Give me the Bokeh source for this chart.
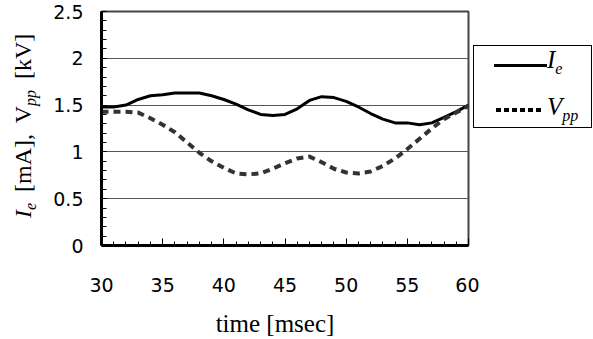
from bokeh.plotting import figure
from bokeh.models import Div, Range1d, SingleIntervalTicker
from bokeh.layouts import row, column
from bokeh.embed import file_html
from bokeh.resources import INLINE

# ---- data ----
time_ms = [30, 31, 32, 33, 34, 35, 36, 37, 38, 39, 40, 41, 42, 43, 44, 45,
           46, 47, 48, 49, 50, 51, 52, 53, 54, 55, 56, 57, 58, 59, 60]
ie_mA = [1.48, 1.48, 1.50, 1.56, 1.60, 1.61, 1.63, 1.63, 1.63, 1.60, 1.56,
         1.51, 1.45, 1.40, 1.39, 1.40, 1.46, 1.55, 1.59, 1.58, 1.54, 1.48,
         1.41, 1.35, 1.31, 1.31, 1.29, 1.31, 1.37, 1.43, 1.50]
vpp_kV = [1.43, 1.43, 1.43, 1.42, 1.36, 1.29, 1.21, 1.10, 0.99, 0.90, 0.83,
          0.77, 0.76, 0.77, 0.82, 0.88, 0.93, 0.95, 0.89, 0.82, 0.78, 0.77,
          0.79, 0.85, 0.93, 1.03, 1.14, 1.25, 1.35, 1.42, 1.49]
y_tick_values = [0, 0.5, 1, 1.5, 2, 2.5]
y_tick_labels = ["0", "0.5", "1", "1.5", "2", "2.5"]
x_label = "time [msec]"
y_label_html = ("<i>I</i><span class='sub'>e</span> [mA], "
                "V<span class='sub'>pp</span> [kV]")
legend_html = [("I", "e"), ("V", "pp")]

SERIF = "'Liberation Serif', 'Times New Roman', serif"

# ---- main plot ----
p = figure(width=434, height=305, x_range=Range1d(30, 60), y_range=Range1d(0, 2.5),
           output_backend="svg", toolbar_location=None, margin=0,
           min_border_left=56, min_border_right=11, min_border_top=11, min_border_bottom=60)
p.background_fill_color = "white"
p.border_fill_color = "white"
p.outline_line_color = "#444444"
p.outline_line_width = 2

p.xaxis.ticker = SingleIntervalTicker(interval=5, num_minor_ticks=5)
p.yaxis.ticker = SingleIntervalTicker(interval=0.5, num_minor_ticks=5)
p.yaxis.major_label_overrides = {v: s for v, s in zip(y_tick_values, y_tick_labels)}
for ax in (p.xaxis, p.yaxis):
    ax.axis_line_color = "black"
    ax.axis_line_width = 3
    ax.major_tick_line_color = "black"
    ax.minor_tick_line_color = "black"
    ax.major_tick_out = 0
    ax.minor_tick_out = 0
    ax.major_label_text_font = "DejaVu Sans"
    ax.major_label_text_font_size = "19px"
    ax.major_label_text_color = "black"
p.xaxis.major_tick_in = 7
p.xaxis.minor_tick_in = 4
p.yaxis.major_tick_in = 5
p.yaxis.minor_tick_in = 5
p.xaxis.major_label_standoff = 32
p.yaxis.major_label_standoff = 18

p.xgrid.visible = False
p.ygrid.grid_line_color = "#555555"
p.ygrid.grid_line_width = 1

p.line(time_ms, ie_mA, line_color="black", line_width=3)
p.line(time_ms, vpp_kV, line_color="#333333", line_width=4, line_dash="7 5")

# ---- y axis label (rotated, mixed styles) ----
ylab = Div(width=45, height=305, margin=0, text=(
    "<div style='position:relative;width:45px;height:305px;'>"
    "<style>.sub{font-size:16px;font-style:italic;position:relative;top:5px;}</style>"
    f"<div style=\"position:absolute;left:11px;top:218px;transform-origin:0 0;"
    f"transform:rotate(-90deg);white-space:nowrap;font-family:{SERIF};font-size:24px;"
    f"line-height:24px;color:black;word-spacing:5px;\">{y_label_html}</div></div>"))

# ---- legend ----
def key_text(main, sub, top):
    return (f"<div style=\"position:absolute;left:74px;top:{top}px;white-space:nowrap;"
            f"font-family:{SERIF};font-size:25px;line-height:25px;font-style:italic;color:black;\">"
            f"{main}<span style='font-size:16px;position:relative;top:6px;'>{sub}</span></div>")

leg = Div(width=120, height=305, margin=(0, 0, 0, -6), text=(
    "<div style='position:relative;width:120px;height:305px;'>"
    "<div style='position:absolute;left:0;top:45px;width:119px;height:83px;"
    "box-sizing:border-box;border:1px solid black;background:white;'></div>"
    "<div style='position:absolute;left:21px;top:64px;width:53px;height:3px;background:black;'></div>"
    "<div style='position:absolute;left:23px;top:108px;width:45px;height:4px;"
    "background:repeating-linear-gradient(to right,#000 0 5px,transparent 5px 8px);'></div>"
    + key_text(legend_html[0][0], legend_html[0][1], 47)
    + key_text(legend_html[1][0], legend_html[1][1], 94)
    + "</div>"))

# ---- x axis label ----
xlab = Div(width=593, height=34, margin=0, text=(
    "<div style='position:relative;width:593px;height:34px;'>"
    f"<div style=\"position:absolute;left:0;top:6px;width:550px;text-align:center;"
    f"font-family:{SERIF};font-size:25px;line-height:25px;color:black;white-space:nowrap;\">"
    f"{x_label}</div></div>"))

layout = column(row(ylab, p, leg, spacing=0, margin=0), xlab, spacing=0, margin=0)
open("out.html", "w").write(file_html(layout, INLINE))
